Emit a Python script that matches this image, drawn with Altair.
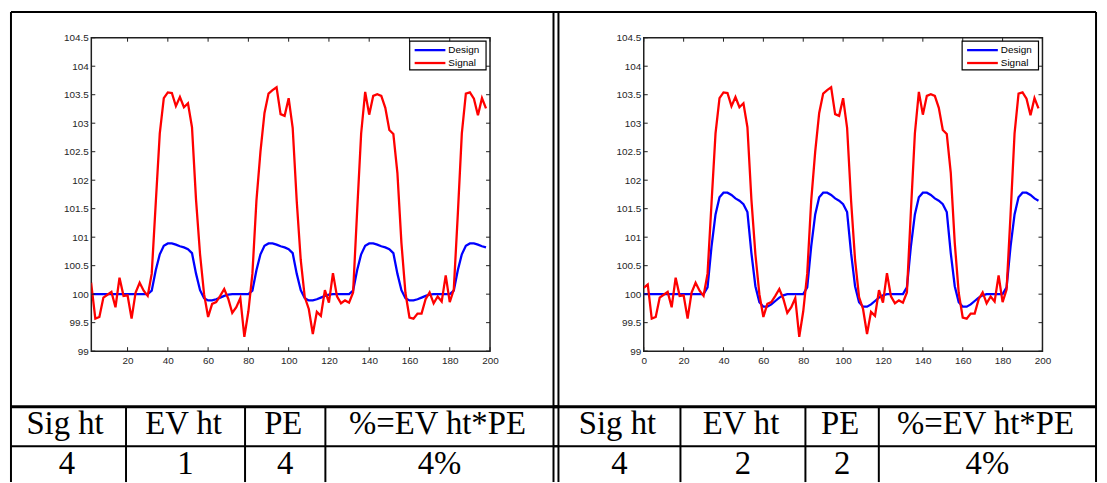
import altair as alt
import pandas as pd

# ---------------- data ----------------
sample_x = list(range(0, 200, 2))

signal = [
    100.11, 100.17, 99.57, 99.60, 99.94, 99.99, 100.04, 99.77, 100.29, 99.97,
    99.98, 99.57, 100.03, 100.20, 100.06, 99.97, 100.36, 101.60, 102.82, 103.44,
    103.54, 103.53, 103.30, 103.46, 103.28, 103.35, 102.93, 101.66, 100.70, 100.00,
    99.60, 99.83, 99.86, 99.97, 100.09, 99.92, 99.67, 99.77, 99.93, 99.25,
    99.70, 100.36, 101.64, 102.50, 103.18, 103.52, 103.58, 103.63, 103.16, 103.13,
    103.44, 102.92, 101.64, 100.60, 99.95, 99.74, 99.30, 99.69, 99.62, 100.07,
    99.85, 100.37, 99.96, 99.84, 99.89, 99.85, 100.03, 101.45, 102.82, 103.55,
    103.15, 103.48, 103.51, 103.48, 103.27, 102.88, 102.81, 102.13, 100.90, 100.02,
    99.59, 99.57, 99.66, 99.66, 99.91, 100.03, 99.84, 99.96, 99.87, 100.33,
    99.86, 100.08, 101.40, 102.82, 103.52, 103.54, 103.43, 103.14, 103.44, 103.26,
]

design_ev1 = [
    100.0, 100.0, 100.0, 100.0, 100.0, 100.0, 100.0, 100.0, 100.0, 100.0,
    100.0, 100.0, 100.0, 100.0, 100.0, 100.0, 100.06, 100.42, 100.70, 100.85,
    100.89, 100.89, 100.87, 100.84, 100.82, 100.79, 100.72, 100.36, 100.07, 99.93,
    99.89, 99.89, 99.91, 99.94, 99.97, 99.99, 100.0, 100.0, 100.0, 100.0,
    100.0, 100.06, 100.42, 100.70, 100.85, 100.89, 100.89, 100.87, 100.84, 100.82,
    100.79, 100.72, 100.36, 100.07, 99.93, 99.89, 99.89, 99.91, 99.94, 99.97,
    99.99, 100.0, 100.0, 100.0, 100.0, 100.0, 100.06, 100.42, 100.70, 100.85,
    100.89, 100.89, 100.87, 100.84, 100.82, 100.79, 100.72, 100.36, 100.07, 99.93,
    99.89, 99.89, 99.91, 99.94, 99.97, 99.99, 100.0, 100.0, 100.0, 100.0,
    100.0, 100.06, 100.42, 100.70, 100.85, 100.89, 100.89, 100.87, 100.84, 100.82,
]

design_ev2 = [
    100.0, 100.0, 100.0, 100.0, 100.0, 100.0, 100.0, 100.0, 100.0, 100.0,
    100.0, 100.0, 100.0, 100.0, 100.0, 100.0, 100.12, 100.84, 101.40, 101.70,
    101.78, 101.78, 101.74, 101.68, 101.64, 101.58, 101.44, 100.72, 100.14, 99.86,
    99.78, 99.78, 99.82, 99.88, 99.94, 99.98, 100.0, 100.0, 100.0, 100.0,
    100.0, 100.12, 100.84, 101.40, 101.70, 101.78, 101.78, 101.74, 101.68, 101.64,
    101.58, 101.44, 100.72, 100.14, 99.86, 99.78, 99.78, 99.82, 99.88, 99.94,
    99.98, 100.0, 100.0, 100.0, 100.0, 100.0, 100.12, 100.84, 101.40, 101.70,
    101.78, 101.78, 101.74, 101.68, 101.64, 101.58, 101.44, 100.72, 100.14, 99.86,
    99.78, 99.78, 99.82, 99.88, 99.94, 99.98, 100.0, 100.0, 100.0, 100.0,
    100.0, 100.12, 100.84, 101.40, 101.70, 101.78, 101.78, 101.74, 101.68, 101.64,
]

series_names = ["Design", "Signal"]
x_ticks_left = [20, 40, 60, 80, 100, 120, 140, 160, 180, 200]
x_ticks_right = [0, 20, 40, 60, 80, 100, 120, 140, 160, 180, 200]
y_ticks = [99, 99.5, 100, 100.5, 101, 101.5, 102, 102.5, 103, 103.5, 104, 104.5]

table_headers = ["Sig ht", "EV ht", "PE", "%=EV ht*PE"]
sig_ht = [4, 4]
ev_ht = [1, 2]
pe = [4, 2]
pct = [4, 4]

# ---------------- layout / style ----------------
W, H = 402, 316
BLUE, RED = "#0000ff", "#ff0000"
AX = "#1f1f1f"
SANS = "Liberation Sans"
SERIF = "Liberation Serif"
SPACING = 155
ORIGINS = [(90, 35), (647, 35)]          # page position of each plot area
CELL_EDGES = [[6, 125, 245, 326, 556], [561, 684, 810, 884, 1103]]
TOP_Y, HEAD_Y, ROW_Y, BOT_Y = 9, 407, 447, 483
HEAD_BASE, ROW_BASE = 435, 475
LEG_ROWS = [12.5, 25.5]

ONE = pd.DataFrame({"a": [0]})


def rule_px(x1, y1, x2, y2, w, ox, oy, color="black"):
    return alt.Chart(ONE).mark_rule(color=color, strokeWidth=w).encode(
        x=alt.value(x1 - ox), x2=alt.value(x2 - ox),
        y=alt.value(y1 - oy), y2=alt.value(y2 - oy),
    )


def panel(k, design, xdomain, xticks):
    ox, oy = ORIGINS[k]
    xs = alt.Scale(domain=xdomain, nice=False, zero=False)
    ys = alt.Scale(domain=[99, 104.5], nice=False, zero=False)
    cs = alt.Scale(domain=series_names, range=[BLUE, RED])
    x_axis = alt.Axis(values=xticks, title=None, labelPadding=4, labelFlush=False,
                      labelOverlap=False)
    y_axis = alt.Axis(values=y_ticks, format="~f", title=None, labelPadding=3,
                      labelFlush=False, labelOverlap=False)

    df = pd.DataFrame({
        "x": sample_x + sample_x,
        "value": design + signal,
        "series": [series_names[0]] * len(sample_x) + [series_names[1]] * len(sample_x),
    })
    lines = alt.Chart(df).mark_line(strokeWidth=2.3, clip=True).encode(
        x=alt.X("x:Q", scale=xs, axis=x_axis),
        y=alt.Y("value:Q", scale=ys, axis=y_axis),
        color=alt.Color("series:N", scale=cs, legend=None),
    )

    xt = alt.Chart(pd.DataFrame({"t": xticks}))
    yt = alt.Chart(pd.DataFrame({"t": y_ticks}))
    tick_kw = dict(color=AX, strokeWidth=1)
    layers = [lines,
        xt.mark_rule(**tick_kw).encode(x=alt.X("t:Q", scale=xs, axis=x_axis), y=alt.value(H), y2=alt.value(H - 4)),
        xt.mark_rule(**tick_kw).encode(x=alt.X("t:Q", scale=xs, axis=x_axis), y=alt.value(0), y2=alt.value(4)),
        yt.mark_rule(**tick_kw).encode(y=alt.Y("t:Q", scale=ys, axis=y_axis), x=alt.value(0), x2=alt.value(4)),
        yt.mark_rule(**tick_kw).encode(y=alt.Y("t:Q", scale=ys, axis=y_axis), x=alt.value(W - 4), x2=alt.value(W)),
    ]

    # legend box (drawn by hand, MATLAB style)
    layers.append(alt.Chart(ONE).mark_rect(fill="white", stroke="black", strokeWidth=1.2).encode(
        x=alt.value(321), x2=alt.value(398), y=alt.value(3.5), y2=alt.value(32.5)))
    for name, ly in zip(series_names, LEG_ROWS):
        sd = pd.DataFrame({"series": [name]})
        layers.append(alt.Chart(sd).mark_rule(strokeWidth=2.3).encode(
            x=alt.value(326), x2=alt.value(357), y=alt.value(ly),
            color=alt.Color("series:N", scale=cs, legend=None)))
        layers.append(alt.Chart(sd).mark_text(
            font=SANS, fontSize=10, align="left", baseline="middle", color="black"
        ).encode(x=alt.value(360), y=alt.value(ly), text="series:N"))

    # table grid
    e = CELL_EDGES[k]
    if k == 0:
        lx, rx = TOP_Y, e[-1] + 5
        verts = [TOP_Y, e[-1]]
    else:
        lx, rx = e[0] - 5, e[-1]
        verts = [e[0], e[-1]]
    layers.append(rule_px(lx, TOP_Y, rx, TOP_Y, 2, ox, oy))
    layers.append(rule_px(lx, HEAD_Y, rx, HEAD_Y, 3, ox, oy))
    layers.append(rule_px(lx, ROW_Y, rx, ROW_Y, 2, ox, oy))
    for xv in verts:
        layers.append(rule_px(xv, TOP_Y, xv, BOT_Y, 2, ox, oy))
    for xv in e[1:-1]:
        layers.append(rule_px(xv, HEAD_Y, xv, BOT_Y, 2, ox, oy))

    centers = [(e[i] + e[i + 1]) / 2 for i in range(4)]
    vals = [str(sig_ht[k]), str(ev_ht[k]), str(pe[k]), f"{pct[k]}%"]
    for lab, cx, by in list(zip(table_headers, [c - 2 for c in centers], [HEAD_BASE] * 4)) + \
            list(zip(vals, centers, [ROW_BASE] * 4)):
        layers.append(alt.Chart(pd.DataFrame({"label": [lab]})).mark_text(
            font=SERIF, fontSize=33, align="center", baseline="alphabetic", color="black"
        ).encode(x=alt.value(cx - ox), y=alt.value(by - oy), text="label:N"))

    return alt.layer(*layers).properties(width=W, height=H)


left = panel(0, design_ev1, [2, 200], x_ticks_left)
right = panel(1, design_ev2, [0, 200], x_ticks_right)

chart = alt.hconcat(left, right, spacing=SPACING, bounds="flush").properties(
    padding=0
).configure_view(stroke=AX, strokeWidth=1.5).configure_axis(
    labelFont=SANS, labelFontSize=10, labelColor=AX, ticks=False, tickSize=0,
    domain=False, grid=False
)

chart.save("out.html", embed_options={"renderer": "svg", "actions": False})
